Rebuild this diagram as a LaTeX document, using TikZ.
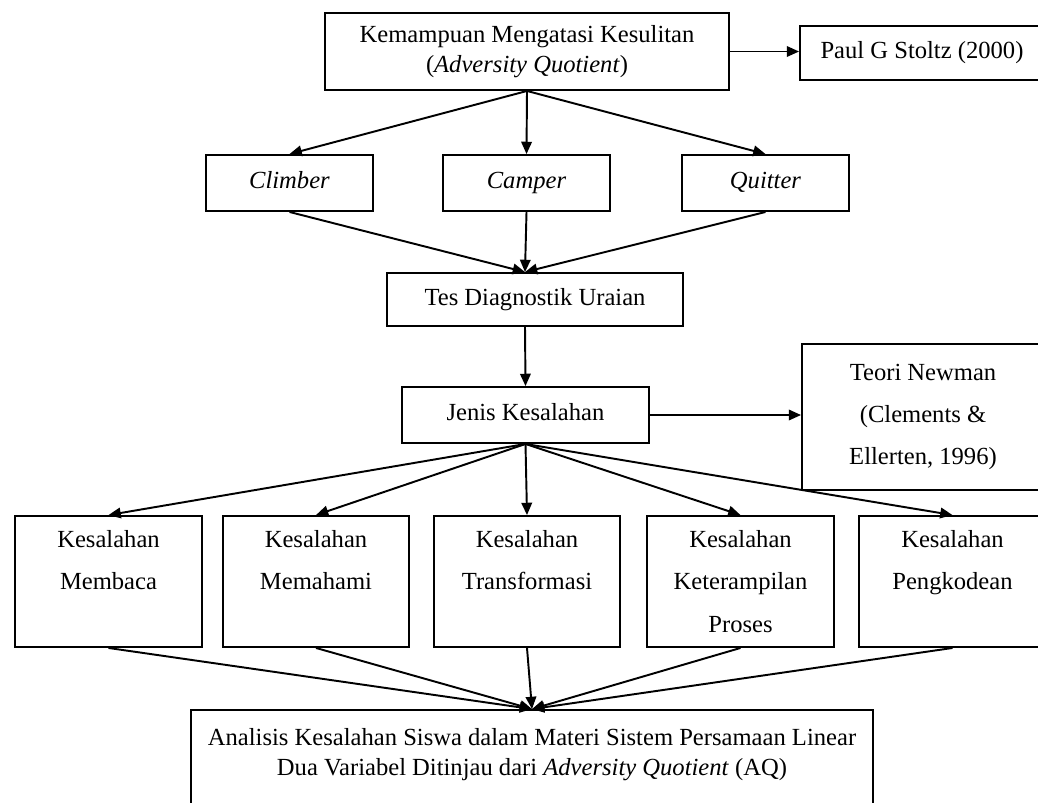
\documentclass[tikz,border=0pt]{standalone}
\usepackage{fontspec}
\setmainfont{Liberation Serif}
\usetikzlibrary{arrows.meta}
\begin{document}
\begin{tikzpicture}[x=0.02cm, y=-0.02cm,
    box/.style={draw, line width=1.1pt, align=center, inner sep=2pt,
      font=\fontsize{14}{17}\selectfont},
    tallbox/.style={box, font=\fontsize{14}{24}\selectfont},
    arr/.style={-{Triangle[length=7pt,width=6pt]}, line width=1.1pt}]
      \useasboundingbox (0,0) rectangle (1038,802);
      %
      \node[box, minimum width=8.08cm, minimum height=1.54cm] (aq) at (527,51.5)
        {Kemampuan Mengatasi Kesulitan\\(\textit{Adversity Quotient})};
      \node[box, minimum width=4.88cm, minimum height=1.08cm] (paul) at (922,53)
        {\strut Paul G Stoltz (2000)};
      %
      \node[box, minimum width=3.34cm, minimum height=1.12cm] (climber) at (289.5,183) {\strut\textit{Climber}};
      \node[box, minimum width=3.34cm, minimum height=1.12cm] (camper) at (526.5,183) {\strut\textit{Camper}};
      \node[box, minimum width=3.34cm, minimum height=1.12cm] (quitter) at (765.5,183) {\strut\textit{Quitter}};
      %
      \node[box, minimum width=5.92cm, minimum height=1.06cm] (tes) at (535,299.5) {\strut Tes Diagnostik Uraian};
      \node[box, minimum width=4.94cm, minimum height=1.12cm] (jenis) at (525.5,415) {\strut Jenis Kesalahan};
      \node[tallbox, minimum width=4.84cm, minimum height=2.92cm] (teori) at (923,417)
        {Teori Newman\\(Clements \&\\Ellerten, 1996)};
      %
      \node[tallbox, minimum width=3.74cm, minimum height=2.62cm] (membaca) at (108.5,581.5)
        {Kesalahan\\Membaca\\\phantom{Proses}};
      \node[tallbox, minimum width=3.72cm, minimum height=2.62cm] (memahami) at (316,581.5)
        {Kesalahan\\Memahami\\\phantom{Proses}};
      \node[tallbox, minimum width=3.72cm, minimum height=2.62cm] (transformasi) at (527,581.5)
        {Kesalahan\\Transformasi\\\phantom{Proses}};
      \node[tallbox, minimum width=3.74cm, minimum height=2.62cm] (proses) at (740.5,581.5)
        {Kesalahan\\Keterampilan\\Proses};
      \node[tallbox, minimum width=3.74cm, minimum height=2.62cm] (pengkodean) at (952.5,581.5)
        {Kesalahan\\Pengkodean\\\phantom{Proses}};
      %
      \node[box, minimum width=13.64cm, minimum height=2.28cm] (analisis) at (532,767)
        {Analisis Kesalahan Siswa dalam Materi Sistem Persamaan Linear\\
         Dua Variabel Ditinjau dari \textit{Adversity Quotient} (AQ)\\\phantom{Dua}};
      %
      \draw[arr] (aq.east) -- (aq.east -| paul.west);
      \draw[arr] (aq.south) -- (climber.north);
      \draw[arr] (aq.south) -- (camper.north);
      \draw[arr] (aq.south) -- (quitter.north);
      %
      \draw[arr] (climber.south) -- ([xshift=-0.2cm]tes.north);
      \draw[arr] (camper.south) -- ([xshift=-0.2cm]tes.north);
      \draw[arr] (quitter.south) -- ([xshift=-0.2cm]tes.north);
      \draw[arr] ([xshift=-0.2cm]tes.south) -- (jenis.north);
      \draw[arr] (jenis.east) -- (jenis.east -| teori.west);
      %
      \foreach \n in {membaca, memahami, transformasi, proses, pengkodean} {
        \draw[arr] (jenis.south) -- (\n.north);
        \draw[arr] (\n.south) -- (analisis.north);
      }
      %
    \end{tikzpicture}
\end{document}
